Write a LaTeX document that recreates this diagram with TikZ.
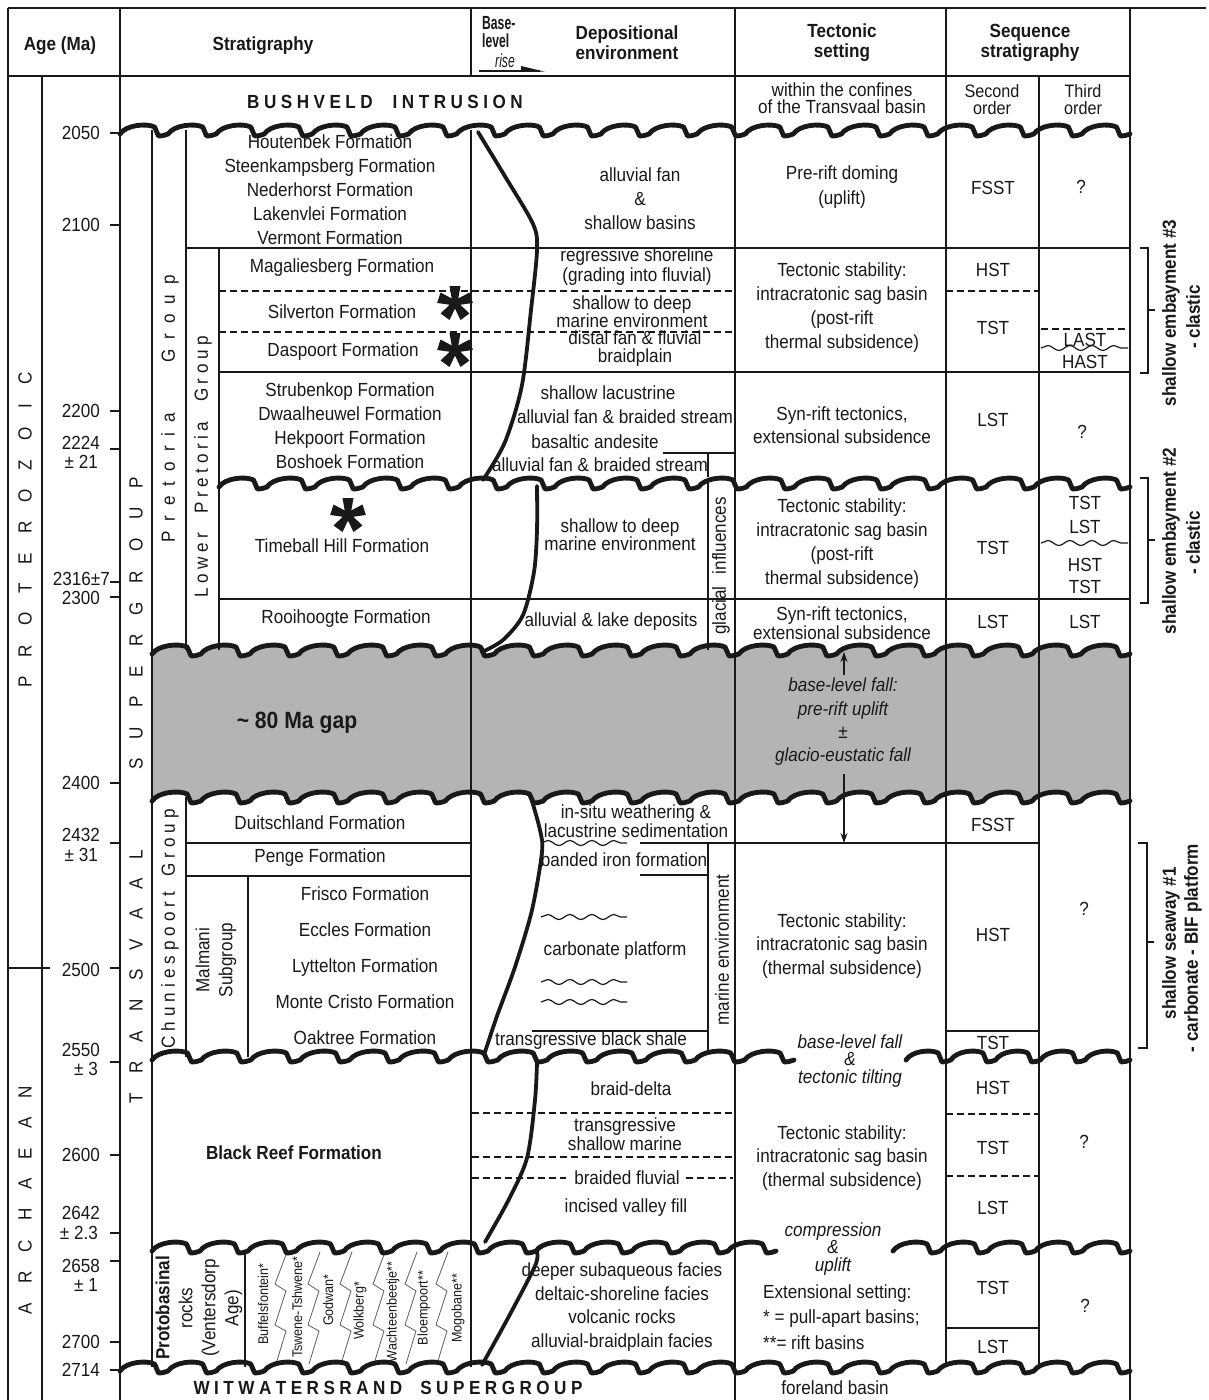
\documentclass[tikz,border=0pt]{standalone}
\usepackage{fontspec}
\setmainfont{Liberation Sans}[FakeStretch=0.9]
\newfontfamily\condfont{Liberation Sans}[FakeStretch=0.64]
\usetikzlibrary{arrows.meta,decorations.pathmorphing}
\definecolor{gapgray}{RGB}{180,180,180}
\definecolor{ink}{RGB}{25,25,25}
\makeatletter
\newcommand\spacedtext[2]{\def\sp@gap{\hspace{#1}}\sp@first#2\relax}
\def\sp@first#1{#1\sp@loop}
\def\sp@loop#1{\ifx#1\relax\else\sp@gap#1\expandafter\sp@loop\fi}
\makeatother
\newcommand\wavepath[4]{(#1,{#3+4}) \foreach \wi in {1,...,#4}{ .. controls ({#1+(\wi-1+0.12)*((#2-#1)/#4)},{#3-5}) and ({#1+(\wi-1+0.55)*((#2-#1)/#4)},{#3-7}) .. ({#1+(\wi-1+0.72)*((#2-#1)/#4)},{#3-3}) -- ({#1+(\wi-1+0.8)*((#2-#1)/#4)},{#3+6}) .. controls ({#1+(\wi-1+0.88)*((#2-#1)/#4)},{#3+6}) and ({#1+(\wi-1+0.95)*((#2-#1)/#4)},{#3+5}) .. ({#1+\wi*((#2-#1)/#4)},{#3+4}) }}
\tikzset{astk/.pic={\fill[ink] (0,0) circle (4);
  \foreach \a in {90,18,162,234,-54}{\fill[ink,rotate=\a] (0,-2.5) -- (17,-5.5) -- (17,5.5) -- (0,2.5) -- cycle;}}}
\begin{document}
\begin{tikzpicture}[x=1pt,y=-1pt,
 grid/.style={line width=1.4pt, draw=ink},
 dsh/.style={line width=1.3pt, draw=ink, dash pattern=on 7pt off 4pt},
 unc/.style={line width=4.8pt, draw=ink, line join=round, line cap=round},
 blc/.style={line width=3.8pt, draw=ink, line cap=round, line join=round},
 tx/.style={inner sep=0pt, align=center, text=ink, font=\fontsize{19}{#1}\selectfont},
 tx/.default=22,
 txb/.style={inner sep=0pt, align=center, text=ink, font=\fontsize{19}{#1}\selectfont\bfseries},
 txb/.default=22,
 txi/.style={inner sep=0pt, align=center, text=ink, font=\fontsize{19}{#1}\selectfont\itshape},
 txi/.default=22,
 txs/.style={inner sep=0pt, text=ink, font=\fontsize{14}{16}\selectfont, rotate=90},
 zig/.style={line width=0.8pt, draw=ink!70},
 squig/.style={line width=1.2pt, draw=ink, decorate, decoration={snake, segment length=22pt, amplitude=2.5pt}},
 arr/.style={line width=1.2pt, draw=ink, -{Stealth[length=10pt,width=7pt]}},
]
\useasboundingbox (0,0) rectangle (1208,1400);
\fill[white] (0,0) rectangle (1208,1400);

% ---------- gap shading
\begin{scope}
\clip \wavepath{152}{1130}{650}{20} -- (1130,900) -- (152,900) -- cycle;
\clip \wavepath{152}{1130}{797}{20} -- (1130,600) -- (152,600) -- cycle;
\fill[gapgray] (152,600) rectangle (1130,900);
\end{scope}

% ---------- frame and grid
\draw[grid] (8,8) -- (1206,8);
\draw[grid] (8,76) -- (1130,76);
\draw[grid] (8,8) -- (8,1400);
\draw[grid] (42,76) -- (42,1400);
\draw[grid] (120,8) -- (120,1400);
\draw[grid] (152,130) -- (152,1367);
\draw[grid] (186,130) -- (186,650);
\draw[grid] (186,797) -- (186,1057);
\draw[grid] (219,248) -- (219,650);
\draw[grid] (248,876) -- (248,1057);
\draw[grid] (245,1250) -- (245,1367);
\draw[grid] (471,8) -- (471,76);
\draw[grid] (471,130) -- (471,1367);
\draw[grid] (735,8) -- (735,1400);
\draw[grid] (946,8) -- (946,1367);
\draw[grid] (1039,76) -- (1039,1367);
\draw[grid] (1130,8) -- (1130,1400);
\draw[grid] (708,453) -- (708,477);
\draw[grid] (708,483) -- (708,650);
\draw[grid] (708,843) -- (708,1052);
\draw[grid] (186,248) -- (1130,248);
\draw[grid] (219,372) -- (1130,372);
\draw[grid] (663,453) -- (735,453);
\draw[grid] (219,599) -- (1130,599);
\draw[grid] (186,843) -- (471,843);
\draw[grid] (640,843) -- (1039,843);
\draw[grid] (186,876) -- (471,876);
\draw[grid] (640,875) -- (708,875);
\draw[grid] (532,1031) -- (708,1031);
\draw[grid] (946,1031) -- (1039,1031);
\draw[grid] (946,1328) -- (1039,1328);
\draw[grid] (8,968) -- (50,968);
% dashed
\draw[dsh] (219,291) -- (733,291);
\draw[dsh] (219,332) -- (733,332);
\draw[dsh] (946,291) -- (1039,291);
\draw[dsh] (1041,329) -- (1128,329);
\draw[dsh] (472,1113) -- (733,1113);
\draw[dsh] (946,1114) -- (1039,1114);
\draw[dsh] (472,1157) -- (733,1157);
\draw[dsh] (472,1178) -- (566,1178);
\draw[dsh] (686,1178) -- (733,1178);
\draw[dsh] (946,1176) -- (1039,1176);
% small wavy
\draw[squig] (1041,348) -- (1128,348);
\draw[squig] (1041,543) -- (1128,543);
\draw[squig] (541,843) -- (627,843);
\draw[squig] (541,917) -- (627,917);
\draw[squig] (541,982) -- (627,982);
\draw[squig] (541,1002) -- (627,1002);
% age ticks
\foreach \yy in {133,225,411,449,582,597,783,843,968,1062,1155,1233,1261,1342,1370}
  \draw[grid] (110,\yy) -- (120,\yy);

% ---------- header
\node[txb] (hAge) at (60,46) {Age (Ma)};
\node[txb] (hStrat) at (263,46) {Stratigraphy};
\node[anchor=west, inner sep=0pt, align=left, text=ink, font=\condfont\bfseries\fontsize{19}{18.5}\selectfont] (hBase) at (482,32) {Base-\\level};
\node[inner sep=0pt, text=ink, font=\condfont\itshape\fontsize{19}{19}\selectfont] (hRise) at (505,61) {rise};
\coordinate (riseL) at (479,71);
\coordinate (riseR) at (540,71);
\draw[line width=1.3pt, draw=ink] (riseL) -- (riseR);
\fill[ink] (521,66) -- (545,71.7) -- (521,71.7) -- cycle;
\node[txb=20] (hDep) at (627,43) {Depositional\\environment};
\node[txb=20] (hTec) at (842,43) {Tectonic\\setting};
\node[txb=20] (hSeq) at (1030,43) {Sequence\\stratigraphy};

% ---------- second row
\node[txb] (bush) at (385,102) {\spacedtext{4.5pt}{BUSHVELD}\hspace{20pt}\spacedtext{4.5pt}{INTRUSION}};
\node[tx=17] (conf) at (842,98) {within the confines\\of the Transvaal basin};
\node[inner sep=0pt, align=center, text=ink, font=\fontsize{18}{17}\selectfont] (so) at (992,100) {Second\\order};
\node[inner sep=0pt, align=center, text=ink, font=\fontsize{18}{17}\selectfont] (to) at (1083,100) {Third\\order};

% ---------- eon / supergroup / group labels
\node[tx, rotate=90] (prot) at (25,530) {\spacedtext{19pt}{PROTEROZOIC}};
\node[tx, rotate=90] (arch) at (25,1200) {\spacedtext{19pt}{ARCHAEAN}};
\node[tx, rotate=90] (tvl) at (136,790) {\spacedtext{19pt}{TRANSVAAL}\hspace{80pt}\spacedtext{19pt}{SUPERGROUP}};
\node[tx, rotate=90] (pg) at (170,409) {\spacedtext{10pt}{Pretoria}\hspace{50pt}\spacedtext{10pt}{Group}};
\node[tx, rotate=90] (lpg) at (203,467) {\spacedtext{4.5pt}{Lower}\hspace{20pt}\spacedtext{4.5pt}{Pretoria}\hspace{20pt}\spacedtext{4.5pt}{Group}};
\node[tx, rotate=90] (cpg) at (170,929) {\spacedtext{5pt}{Chuniespoort}\hspace{15pt}\spacedtext{5pt}{Group}};
\node[tx=23, rotate=90] (mal) at (216,960) {Malmani\\Subgroup};

% ---------- ages
\node[tx, anchor=east] (a2050) at (100,133) {2050};
\node[tx, anchor=east] (a2100) at (100,225) {2100};
\node[tx, anchor=east] (a2200) at (100,411) {2200};
\node[tx, anchor=east] (a2224) at (100,443) {2224};
\node[tx, anchor=east] (a2224e) at (98,462) {± 21};
\node[tx, anchor=east] (a2316) at (110,579) {2316±7};
\node[tx, anchor=east] (a2300) at (100,598) {2300};
\node[tx, anchor=east] (a2400) at (100,783) {2400};
\node[tx, anchor=east] (a2432) at (100,835) {2432};
\node[tx, anchor=east] (a2432e) at (98,855) {± 31};
\node[tx, anchor=east] (a2500) at (100,970) {2500};
\node[tx, anchor=east] (a2550) at (100,1050) {2550};
\node[tx, anchor=east] (a2550e) at (98,1069) {± 3};
\node[tx, anchor=east] (a2600) at (100,1155) {2600};
\node[tx, anchor=east] (a2642) at (100,1213) {2642};
\node[tx, anchor=east] (a2642e) at (98,1233) {± 2.3};
\node[tx, anchor=east] (a2658) at (100,1266) {2658};
\node[tx, anchor=east] (a2658e) at (98,1285) {± 1};
\node[tx, anchor=east] (a2700) at (100,1342) {2700};
\node[tx, anchor=east] (a2714) at (100,1370) {2714};

% ---------- formations
\node[tx=24] (f1) at (330,190) {Houtenbek Formation\\Steenkampsberg Formation\\Nederhorst Formation\\Lakenvlei Formation\\Vermont Formation};
\node[tx] (mag) at (342,268) {Magaliesberg Formation};
\node[tx] (silv) at (342,312) {Silverton Formation};
\node[tx] (dasp) at (343,352) {Daspoort Formation};
\node[tx=24] (f2) at (350,426) {Strubenkop Formation\\Dwaalheuwel Formation\\Hekpoort Formation\\Boshoek Formation};
\node[tx] (tbh) at (342,546) {Timeball Hill Formation};
\node[tx] (rooi) at (346,619) {Rooihoogte Formation};
\node[inner sep=0pt, text=ink, font=\fontsize{23.5}{25}\selectfont\bfseries] (gapLbl) at (297,723) {{\char"007E} 80 Ma gap};
\node[tx] (duit) at (320,823) {Duitschland Formation};
\node[tx] (penge) at (320,858) {Penge Formation};
\node[tx=36] (f3) at (365,966) {Frisco Formation\\Eccles Formation\\Lyttelton Formation\\Monte Cristo Formation\\Oaktree Formation};
\node[txb] (blackreef) at (294,1153) {Black Reef Formation};
\node[tx=23, rotate=90] (proto) at (199,1308) {\textbf{Protobasinal}\\rocks\\(Ventersdorp\\Age)};
\node[txs] (n1) at (263,1304) {Buffelsfontein*};
\node[txs] (n2) at (297,1307) {Tswene-Tshwene*};
\node[txs] (n3) at (328,1300) {Godwan*};
\node[txs] (n4) at (360,1311) {Wolkberg*};
\node[txs] (n5) at (393,1312) {Wachteenbeetje**};
\node[txs] (n6) at (424,1308) {Bloempoort**};
\node[txs] (n7) at (458,1308) {Mogobane**};
\foreach \xx in {280,313,345,378,410,441}
  \draw[zig] (\xx+7,1252) -- (\xx-5,1284) -- (\xx+6,1291) -- (\xx-5,1325) -- (\xx+6,1331) -- (\xx-4,1364);

% ---------- depositional environment
\node[tx=24] (dA) at (640,199) {alluvial fan\\\&\\shallow basins};
\node[tx=20] (dB1) at (637,267) {regressive shoreline\\(grading into fluvial)};
\node[tx=18] (dB2) at (632,312) {shallow to deep\\marine environment};
\node[tx=18] (dB3) at (635,349) {distal fan \& fluvial\\braidplain};
\node[tx] (dC1) at (608,393) {shallow lacustrine};
\node[tx] (dC2) at (625,417) {alluvial fan \& braided stream};
\node[tx] (dC3) at (595,442) {basaltic andesite};
\node[tx] (dC4) at (600,465) {alluvial fan \& braided stream};
\node[tx=18] (dD) at (620,535) {shallow to deep\\marine environment};
\node[tx] (dE) at (611,622) {alluvial \& lake deposits};
\node[tx, rotate=90] (glac) at (721,566) {glacial\hspace{12pt}influences};
\node[tx=17] (dF) at (636,821) {in-situ weathering \&\\lacustrine sedimentation};
\node[tx] (dG) at (624,860) {banded iron formation};
\node[tx] (dH) at (615,951) {carbonate platform};
\node[tx, rotate=90] (mar) at (722,950) {marine environment};
\node[tx] (dI) at (591,1041) {transgressive black shale};
\node[tx] (dJ) at (631,1089) {braid-delta};
\node[tx=17] (dK) at (625,1134) {transgressive\\shallow marine};
\node[tx] (dL) at (627,1178) {braided fluvial};
\node[tx] (dM) at (626,1208) {incised valley fill};
\node[tx=23.5] (dN) at (622,1307) {deeper subaqueous facies\\deltaic-shoreline facies\\volcanic rocks\\alluvial-braidplain facies};

% ---------- tectonic setting
\node[tx=25] (tec1) at (842,187) {Pre-rift doming\\(uplift)};
\node[tx=24] (tec2) at (842,308) {Tectonic stability:\\intracratonic sag basin\\(post-rift\\thermal subsidence)};
\node[tx=23] (tec3) at (842,425) {Syn-rift tectonics,\\extensional subsidence};
\node[tx=24] (tec4) at (842,544) {Tectonic stability:\\intracratonic sag basin\\(post-rift\\thermal subsidence)};
\node[tx=17] (tec5) at (842,623) {Syn-rift tectonics,\\extensional subsidence};
\node[txi=23.3] (gapT) at (843,722) {base-level fall:\\pre-rift uplift\\±\\glacio-eustatic fall};
\coordinate (upTip) at (844,652);
\coordinate (dnTip) at (844,843);
\draw[arr, shorten <=3pt] (gapT.north -| upTip) -- (upTip);
\draw[arr, shorten <=8pt] (gapT.south -| dnTip) -- (dnTip);
\node[tx=23.5] (tec6) at (842,946) {Tectonic stability:\\intracratonic sag basin\\(thermal subsidence)};
\node[txi=17.5] (tec7) at (850,1061) {base-level fall\\\&\\tectonic tilting};
\node[tx=23.5] (tec8) at (842,1158) {Tectonic stability:\\intracratonic sag basin\\(thermal subsidence)};
\node[txi=17.5] (tec9) at (833,1249) {compression\\\&\\uplift};
\node[tx=25.5, align=left, anchor=west] (tec10) at (763,1317) {Extensional setting:\\* = pull-apart basins;\\**= rift basins};
\node[tx] (forl) at (835,1388) {foreland basin};

% ---------- sequence stratigraphy
\node[tx] (s1) at (993,188) {FSST};
\node[tx] (s2) at (993,270) {HST};
\node[tx] (s3) at (993,328) {TST};
\node[tx] (s4) at (993,420) {LST};
\node[tx] (s5) at (993,548) {TST};
\node[tx] (s6) at (993,622) {LST};
\node[tx] (s7) at (993,825) {FSST};
\node[tx] (s8) at (993,935) {HST};
\node[tx] (s9) at (993,1043) {TST};
\node[tx] (s10) at (993,1088) {HST};
\node[tx] (s11) at (993,1148) {TST};
\node[tx] (s12) at (993,1208) {LST};
\node[tx] (s13) at (993,1288) {TST};
\node[tx] (s14) at (993,1347) {LST};
\node[tx] (t1) at (1081,187) {?};
\node[tx] (t2) at (1085,340) {LAST};
\node[tx] (t3) at (1085,362) {HAST};
\node[tx] (t4) at (1082,432) {?};
\node[tx] (t5) at (1085,503) {TST};
\node[tx] (t6) at (1085,527) {LST};
\node[tx] (t7) at (1085,565) {HST};
\node[tx] (t8) at (1085,587) {TST};
\node[tx] (t9) at (1085,622) {LST};
\node[tx] (t10) at (1084,909) {?};
\node[tx] (t11) at (1084,1142) {?};
\node[tx] (t12) at (1085,1306) {?};

% ---------- right brackets and labels
\draw[grid] (1140,248) -- (1148,248) -- (1148,373) -- (1140,373);
\draw[grid] (1148,310) -- (1155,310);
\draw[grid] (1140,478) -- (1148,478) -- (1148,603) -- (1140,603);
\draw[grid] (1148,540) -- (1155,540);
\draw[grid] (1138,843) -- (1147,843) -- (1147,1048) -- (1138,1048);
\draw[grid] (1147,942) -- (1154,942);
\node[txb, rotate=90] (lab3a) at (1171,313) {shallow embayment \#3};
\node[txb, rotate=90] (lab3b) at (1193,317) {- clastic};
\node[txb, rotate=90] (lab2a) at (1171,541) {shallow embayment \#2};
\node[txb, rotate=90] (lab2b) at (1193,543) {- clastic};
\node[txb, rotate=90] (lab1a) at (1171,943) {shallow seaway \#1};
\node[txb, rotate=90] (lab1b) at (1193,948) {- carbonate - BIF platform};

% ---------- bottom
\node[txb] (witw) at (388,1388) {\spacedtext{4.5pt}{WITWATERSRAND}\hspace{18pt}\spacedtext{4.5pt}{SUPERGROUP}};

% ---------- unconformities
\draw[unc] \wavepath{120}{1130}{130}{21};
\draw[unc] \wavepath{219}{1130}{483}{19};
\draw[unc] \wavepath{152}{1130}{650}{20};
\draw[unc] \wavepath{152}{1130}{797}{20};
\draw[unc] \wavepath{152}{794}{1056}{13};
\draw[unc] \wavepath{906}{1130}{1056}{5};
\draw[unc] \wavepath{152}{776}{1247}{13};
\draw[unc] \wavepath{893}{1130}{1247}{5};
\draw[unc] \wavepath{120}{1130}{1367}{21};

% ---------- base-level curve
\draw[blc] plot[smooth, tension=0.5] coordinates {(478,132) (506,178) (533,224) (537,250) (531,310) (522,385) (505,442) (483,480)};
\draw[blc] plot[smooth, tension=0.5] coordinates {(537,486) (537,530) (534,572) (523,615) (503,640) (482,652)};
\draw[blc] plot[smooth, tension=0.5] coordinates {(532,801) (540,830) (542,852) (532,910) (515,967) (497,1016) (485,1052)};
\draw[blc] plot[smooth, tension=0.5] coordinates {(537,1062) (535,1100) (527,1158) (508,1201) (485,1242)};
\draw[blc] plot[smooth, tension=0.5] coordinates {(537,1252) (535,1266) (508,1318) (482,1365)};

% ---------- asterisks
\pic at (455,303) {astk};
\pic at (455,350) {astk};
\pic at (348,515) {astk};
\end{tikzpicture}
\end{document}
